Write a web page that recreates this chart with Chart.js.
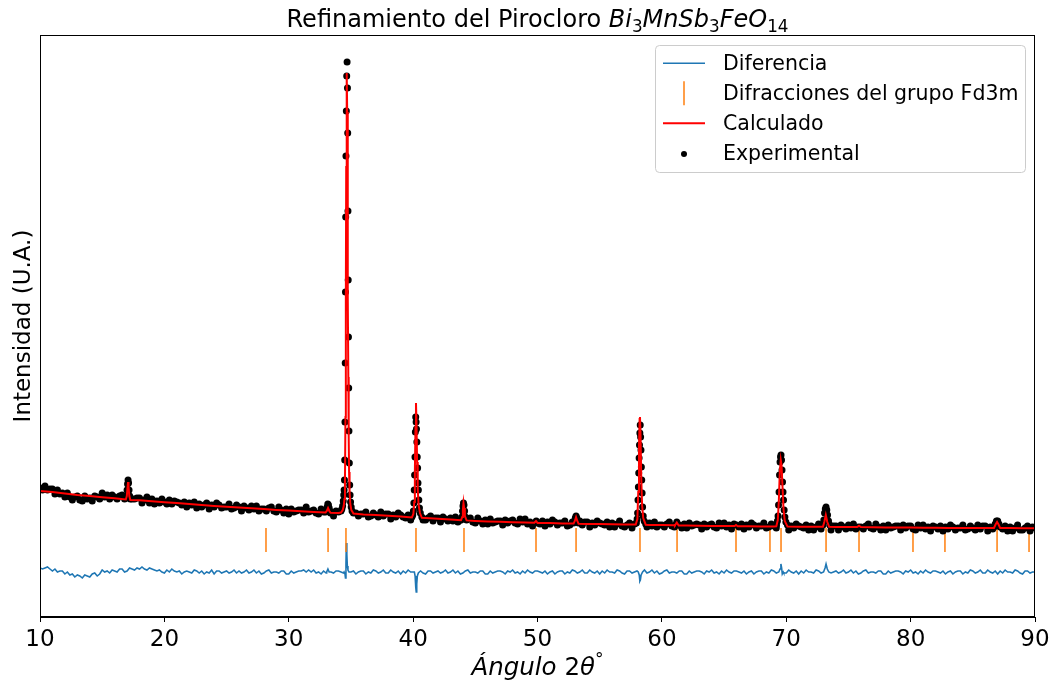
<!DOCTYPE html>
<html>
<head>
<meta charset="utf-8">
<script src="https://cdn.jsdelivr.net/npm/chart.js@4.4.0/dist/chart.umd.min.js"></script>
<style>
  html, body { margin: 0; padding: 0; background: #fff; }
</style>
</head>
<body>
<canvas id="grafica" width="1056" height="684"></canvas>
<script>
// Rejilla del fondo: de 10° a 90°
const inicioFondo = 10;
const pasoFondo = 0.2;
const pasoFondoCalc = 1;

// Fondo experimental (cada 0.2°, una fila por grado)
const fondoExperimental = [
  129,127,131,127,128, 128,123,127,123,124, 120,124,120,117,120, 121,117,116,121,118,
  119,116,121,120,118, 124,120,122,118,122, 120,118,121,122,118, 116,121,118,118,119,
  119,114,117,120,114, 118,113,116,114,118, 115,113,117,113,116, 115,114,112,115,110,
  114,112,115,109,113, 110,112,114,108,112, 110,114,112,109,110, 110,113,108,109,112,
  110,106,111,109,107, 111,108,111,106,108, 108,106,109,110,106, 105,110,107,104,108,
  103,108,105,106,107, 107,104,110,105,106, 107,104,103,108,105, 108,103,105,101,106,
  105,103,106,101,105, 102,106,104,101,103, 103,105,100,101,104, 102,100,105,101,103,
  103,98,102,100,104,  102,100,99,102,97,   101,97,100,102,97,   97,99,101,96,99,
  99,95,100,98,96,     99,96,100,95,97,     97,95,98,99,95,      94,99,96,93,97,
  93,98,94,95,96,      96,92,97,94,96,      97,94,93,98,95,      98,93,95,91,96,
  95,93,96,91,95,      93,97,95,92,94,      94,96,91,92,95,      93,91,96,92,95,
  95,90,94,92,96,      94,93,92,95,90,      94,90,93,96,91,      90,92,94,89,93,
  93,89,94,92,90,      94,91,95,90,92,      92,90,93,95,91,      90,95,92,89,93,
  89,94,91,92,93,      92,88,93,90,92,      93,90,89,94,91,      94,90,92,88,93,
  92,90,93,88,92,      90,94,92,89,91,      91,94,89,90,93,      91,89,94,90,92,
  92,87,91,89,93,      91,90,89,92,87,      91,87,90,93,88,      88,90,92,87,91,
  91,87,92,90,88,      92,89,93,88,90,      90,88,91,93,89,      88,93,90,87,91,
  87,92,89,90,91,      91,87,92,89,91,      91,88,87,92,89,      92,88,90,86,91,
  90,88,91,86,90,      88,92,90,87,89,      89,92,87,88,91,      89,87,92,88,91,
  91,86,90,88,92,      90,89,88,91,86,      90,86,89,92,87,      87,89,91,86,90,
  89
];

// Fondo calculado (cada 1°)
const fondoCalculado = [
  126, 125, 123.5, 122, 121, 119.8, 118.8, 117.8, 116.8, 115.8,
  114.8, 113.9, 113, 112, 111.1, 110.3, 109.5, 108.7, 107.9, 107.1,
  106.4, 105.8, 105.1, 104.5, 104, 103.4, 102.6, 101.9, 101.2, 100.5,
  99.8, 99, 98.2, 97.4, 96.8, 96.1, 95.6, 95.2, 94.8, 94.5,
  94.2, 93.9, 93.6, 93.3, 93.1, 92.9, 92.7, 92.5, 92.3, 92.1,
  91.9, 91.7, 91.5, 91.3, 91.1, 91, 90.8, 90.7, 90.6, 90.5,
  90.4, 90.3, 90.2, 90.1, 90, 89.9, 89.8, 89.7, 89.6, 89.5,
  89.4, 89.3, 89.2, 89.1, 89.1, 89, 89, 88.9, 88.9, 88.8,
  88.8
];

// Diferencia (exp - calc) en el fondo, cada 0.2°
const fondoDiferencia = [
  4,3,4,5,3,    1,3,0,1,1,    -2,0,-3,-2,-5, -3,-4,-6,-3,-4,
  -5,-2,-1,-4,-2, 2,0,1,-1,2, 1,0,3,3,0,     1,4,3,2,4,
  3,5,3,2,4,    3,2,1,2,0,    -1,2,0,3,1,    0,1,-2,0,1,
  0,-1,2,1,-1,  1,-2,0,-1,2,  -2,1,1,-1,0,   1,-1,0,2,-1,
  1,-1,0,2,-1,  0,2,-1,1,-2,  -1,1,2,-1,0,   0,-1,1,1,-2,
  -2,1,-1,0,1,  1,2,0,2,0,    2,-1,0,-2,1,   -1,2,0,-1,1,
  1,0,-1,1,-2,  0,1,-2,0,1,   1,-2,0,-1,2,   1,-1,0,2,-1,
  -1,2,0,-1,1,  -2,1,-1,2,0,  0,-1,2,1,-1,   -2,1,1,-1,0,
  1,-1,0,2,-1,  0,2,-1,1,-2,  -1,1,2,-1,0,   0,-1,1,1,-2,
  -2,1,-1,0,1,  1,0,-2,1,0,   2,-1,0,-2,1,   -1,2,0,-1,1,
  1,0,-1,1,-2,  0,1,-2,0,1,   1,-2,0,-1,2,   1,-1,0,2,-1,
  -1,2,0,-1,1,  -2,1,-1,2,0,  0,-1,2,1,-1,   -2,1,1,-1,0,
  1,-1,0,2,-1,  0,2,-1,1,-2,  -1,1,2,-1,0,   0,-1,1,1,-2,
  -2,1,-1,0,1,  1,0,-2,1,0,   2,-1,0,-2,1,   -1,2,0,-1,1,
  1,0,-1,1,-2,  0,1,-2,0,1,   1,-2,0,-1,2,   1,-1,0,2,-1,
  -1,2,0,-1,1,  -2,1,-1,2,0,  0,-1,2,1,-1,   -2,1,1,-1,0,
  1,-1,0,2,-1,  0,2,-1,1,-2,  -1,1,2,-1,0,   0,-1,1,1,-2,
  -2,1,-1,0,1,  1,0,-2,1,0,   2,-1,0,-2,1,   -1,2,0,-1,1,
  1,0,-1,1,-2,  0,1,-2,0,1,   1,-2,0,-1,2,   1,-1,0,2,-1,
  -1,2,0,-1,1,  -2,1,-1,2,0,  0,-1,2,1,-1,   -2,1,1,-1,0,
  0
];

// Picos experimentales [ángulo, intensidad]
const picosExperimental = [
  [[16.90,119],[16.95,121],[17.00,127],[17.04,133],[17.08,137],[17.12,134],[17.16,127],[17.21,121],[17.26,118]],
  [[32.96,105],[33.03,107],[33.09,110],[33.14,113],[33.19,112],[33.25,109],[33.30,106],[33.36,104]],
  [[34.20,106],[34.27,108],[34.33,111],[34.38,116],[34.42,122],[34.45,127],[34.48,137],[34.50,157],[34.52,195],[34.54,254],
   [34.56,325],[34.58,400],[34.60,461],[34.63,506],[34.66,541],[34.69,555],[34.72,529],[34.74,484],[34.76,406],[34.78,337],
   [34.80,280],[34.82,229],[34.84,186],[34.87,154],[34.90,132],[34.93,122],[34.97,115],[35.02,110],[35.09,106],[35.20,104]],
  [[39.90,100],[39.97,102],[40.02,106],[40.06,114],[40.09,127],[40.12,142],[40.15,160],[40.18,185],[40.21,200],[40.24,195],
   [40.27,188],[40.30,175],[40.33,160],[40.36,149],[40.39,134],[40.42,127],[40.46,117],[40.51,109],[40.58,104],[40.70,100]],
  [[43.85,97],[43.92,100],[43.97,106],[44.01,111],[44.05,114],[44.09,112],[44.14,106],[44.20,100],[44.30,97]],
  [[49.78,94],[49.90,96],[50.02,94]],
  [[52.90,94],[52.98,96],[53.04,99],[53.10,101],[53.16,99],[53.22,96],[53.30,94]],
  [[57.95,94],[58.01,98],[58.05,104],[58.08,117],[58.11,130],[58.14,144],[58.17,159],[58.20,172],[58.23,184],[58.26,192],
   [58.29,180],[58.32,167],[58.35,150],[58.38,137],[58.41,124],[58.45,110],[58.50,101],[58.58,96],[58.70,93]],
  [[61.08,92],[61.20,95],[61.32,92]],
  [[69.22,92],[69.29,96],[69.34,101],[69.38,112],[69.42,125],[69.46,142],[69.50,155],[69.54,160],[69.58,162],[69.62,157],
   [69.66,147],[69.70,135],[69.74,125],[69.78,117],[69.83,107],[69.89,100],[69.97,95],[70.10,92]],
  [[72.95,92],[73.02,97],[73.08,104],[73.14,108],[73.20,110],[73.26,107],[73.32,102],[73.40,96],[73.50,92]],
  [[86.70,90],[86.80,93],[86.90,96],[87.00,96],[87.10,93],[87.20,90]]
];

// Picos del perfil calculado
const picosCalculado = [
  [[16.90,117.5],[16.98,121],[17.04,130],[17.08,135],[17.12,130],[17.18,121],[17.26,117]],
  [[32.96,104.5],[33.06,106],[33.16,109],[33.26,106],[33.36,104.2]],
  [[34.20,104.5],[34.34,107],[34.42,111],[34.48,118],[34.52,135],[34.56,200],[34.59,320],[34.62,450],[34.65,535],[34.67,544],
   [34.70,505],[34.73,420],[34.76,320],[34.79,240],[34.82,180],[34.85,145],[34.89,125],[34.95,113],[35.03,107],[35.20,103.5]],
  [[39.90,99.5],[40.02,103],[40.09,115],[40.14,145],[40.19,190],[40.23,214],[40.27,195],[40.32,155],[40.37,128],[40.44,112],[40.55,104],[40.70,99.2]],
  [[43.85,96.8],[43.95,100],[44.00,107],[44.05,114],[44.10,109],[44.16,101],[44.30,96.6]],
  [[49.75,94.3],[49.88,96],[50.00,94.1]],
  [[52.90,93.4],[53.00,96],[53.10,100],[53.20,96],[53.30,93.3]],
  [[57.90,92.4],[58.03,98],[58.10,125],[58.16,170],[58.21,198],[58.24,200],[58.28,185],[58.34,140],[58.41,112],[58.50,99],[58.70,92.3]],
  [[61.05,91.6],[61.20,94.5],[61.35,91.5]],
  [[65.85,91],[65.96,92],[66.10,90.8]],
  [[69.20,90.6],[69.32,97],[69.40,115],[69.48,145],[69.56,157],[69.62,152],[69.70,130],[69.78,108],[69.88,96],[70.10,90.4]],
  [[72.95,90.3],[73.06,95],[73.18,102],[73.30,95],[73.45,90.2]],
  [[75.70,90],[75.85,91.2],[76.00,89.9]],
  [[86.70,89],[86.83,92.5],[86.95,95],[87.07,92.5],[87.20,88.9]]
];

// Picos de la diferencia
const picosDiferencia = [
  [[33.05,0],[33.15,3],[33.25,0]],
  [[34.45,0],[34.52,-2],[34.56,-6],[34.60,8],[34.63,29],[34.67,18],[34.71,6],[34.76,2],[34.84,0]],
  [[40.10,0],[40.16,-4],[40.21,-15],[40.25,-20],[40.29,-12],[40.34,-4],[40.42,-1],[40.50,0]],
  [[58.10,0],[58.18,-3],[58.23,-9],[58.27,-8],[58.33,-3],[58.45,0]],
  [[69.40,0],[69.50,3],[69.57,8],[69.63,4],[69.68,-2],[69.76,0]],
  [[73.00,0],[73.12,4],[73.20,8],[73.30,3],[73.42,0]]
];

// Posiciones de Bragg del grupo Fd3m
const reflexiones = [28.17, 33.16, 34.60, 40.23, 44.09, 49.88, 53.10, 58.24, 61.22,
  65.96, 68.69, 69.58, 73.20, 75.85, 80.19, 82.76, 86.95, 89.52];

const desplazamientoDif = 45;   // la diferencia se dibuja debajo del patrón
const nivelReflexiones = 77;

// junta fondo y picos, quitando los puntos de fondo que caen dentro de un pico
function combinar(fondo, paso, picos) {
  const ventanas = picos.map(p => [p[0][0], p[p.length - 1][0]]);
  const puntos = [];
  fondo.forEach((y, i) => {
    const x = inicioFondo + i * paso;
    if (!ventanas.some(v => x >= v[0] && x <= v[1])) puntos.push({ x: x, y: y });
  });
  picos.forEach(p => p.forEach(([x, y]) => puntos.push({ x: x, y: y })));
  return puntos.sort((a, b) => a.x - b.x);
}

const experimental = combinar(fondoExperimental, pasoFondo, picosExperimental);
const calculado = combinar(fondoCalculado, pasoFondoCalc, picosCalculado);
const diferencia = combinar(fondoDiferencia, pasoFondo, picosDiferencia)
  .map(p => ({ x: p.x, y: p.y + desplazamientoDif }));
const bragg = reflexiones.map(x => ({ x: x, y: nivelReflexiones }));

const FUENTE = '"DejaVu Sans", sans-serif';

// texto con tramos en cursiva, subíndices y superíndices
function dibujarTramos(ctx, tramos, xc, yb, tam) {
  const fuente = t => (t.it ? 'italic ' : '') + ((t.sub || t.sup) ? tam * 0.7 : tam) + 'px ' + FUENTE;
  let ancho = 0;
  tramos.forEach(t => { ctx.font = fuente(t); ancho += ctx.measureText(t.t).width; });
  let x = xc - ancho / 2;
  ctx.textAlign = 'left';
  ctx.textBaseline = 'alphabetic';
  tramos.forEach(t => {
    ctx.font = fuente(t);
    const dy = t.sub ? tam * 0.22 : (t.sup ? -tam * 0.42 : 0);
    ctx.fillText(t.t, x, yb + dy);
    x += ctx.measureText(t.t).width;
  });
}

const decoracion = {
  id: 'decoracion',
  afterDatasetsDraw(chart) {
    const ctx = chart.ctx;
    const a = chart.chartArea;
    ctx.save();
    ctx.fillStyle = '#000';

    // marco
    ctx.strokeStyle = '#000';
    ctx.lineWidth = 1;
    ctx.strokeRect(Math.round(a.left) + 0.5, Math.round(a.top) + 0.5,
      Math.round(a.right - a.left) - 1, Math.round(a.bottom - a.top) - 1);

    const xc = (a.left + a.right) / 2;

    // título
    dibujarTramos(ctx, [
      { t: 'Refinamiento del Pirocloro ' },
      { t: 'Bi', it: true }, { t: '3', sub: true },
      { t: 'MnSb', it: true }, { t: '3', sub: true },
      { t: 'FeO', it: true }, { t: '14', sub: true }
    ], xc, 27, 24);

    // eje x
    dibujarTramos(ctx, [
      { t: 'Ángulo', it: true }, { t: ' 2' }, { t: 'θ', it: true }, { t: '°', sup: true }
    ], xc, 675, 24.5);

    // eje y
    ctx.save();
    ctx.translate(30, (a.top + a.bottom) / 2);
    ctx.rotate(-Math.PI / 2);
    ctx.font = '23px ' + FUENTE;
    ctx.textAlign = 'center';
    ctx.textBaseline = 'alphabetic';
    ctx.fillText('Intensidad (U.A.)', 0, 0);
    ctx.restore();

    // leyenda
    const lx = 655.5, ly = 45.5, lw = 370, lh = 127;
    ctx.beginPath();
    ctx.roundRect(lx, ly, lw, lh, 4);
    ctx.fillStyle = 'rgba(255,255,255,0.8)';
    ctx.fill();
    ctx.strokeStyle = '#cccccc';
    ctx.lineWidth = 1;
    ctx.stroke();

    const filas = [63.3, 93.3, 123.3, 153.3];
    ctx.lineWidth = 1.5;
    ctx.strokeStyle = '#1f77b4';
    ctx.beginPath(); ctx.moveTo(663, filas[0]); ctx.lineTo(705, filas[0]); ctx.stroke();
    ctx.strokeStyle = '#ff7f0e';
    ctx.beginPath(); ctx.moveTo(684, filas[1] - 12); ctx.lineTo(684, filas[1] + 12); ctx.stroke();
    ctx.lineWidth = 2;
    ctx.strokeStyle = '#ff0000';
    ctx.beginPath(); ctx.moveTo(663, filas[2]); ctx.lineTo(705, filas[2]); ctx.stroke();
    ctx.fillStyle = '#000';
    ctx.beginPath(); ctx.arc(684, filas[3] + 0.7, 3, 0, Math.PI * 2); ctx.fill();

    ctx.font = '20.5px ' + FUENTE;
    ctx.textAlign = 'left';
    ctx.textBaseline = 'alphabetic';
    ['Diferencia', 'Difracciones del grupo Fd3m', 'Calculado', 'Experimental']
      .forEach((t, i) => ctx.fillText(t, 723, filas[i] + 6.2));
    ctx.restore();
  }
};

new Chart(document.getElementById('grafica'), {
  type: 'scatter',
  data: {
    datasets: [
      {
        label: 'Diferencia',
        data: diferencia,
        showLine: true,
        borderColor: '#1f77b4',
        borderWidth: 1.6,
        pointRadius: 0,
        order: 3
      },
      {
        label: 'Difracciones del grupo Fd3m',
        data: bragg,
        pointStyle: 'line',
        pointRotation: 90,
        pointRadius: 12,
        borderColor: '#ff7f0e',
        borderWidth: 1.5,
        order: 2
      },
      {
        label: 'Calculado',
        data: calculado,
        showLine: true,
        borderColor: '#ff0000',
        borderWidth: 2,
        pointRadius: 0,
        order: 0
      },
      {
        label: 'Experimental',
        data: experimental,
        pointRadius: 3.5,
        pointStyle: 'circle',
        backgroundColor: '#000',
        borderWidth: 0,
        order: 1
      }
    ]
  },
  options: {
    responsive: false,
    animation: false,
    devicePixelRatio: 1,
    events: [],
    layout: { padding: { left: 40, right: 21, top: 35, bottom: 0 } },
    plugins: {
      legend: { display: false },
      title: { display: false },
      tooltip: { enabled: false }
    },
    scales: {
      x: {
        type: 'linear',
        min: 10,
        max: 90,
        ticks: {
          stepSize: 10,
          color: '#000',
          font: { family: FUENTE, size: 23 },
          padding: 4,
          maxRotation: 0
        },
        grid: { drawOnChartArea: false, drawTicks: true, tickLength: 5, color: '#000' },
        border: { display: true, color: '#000' },
        afterFit: s => { s.height = 67; }
      },
      y: {
        display: false,
        min: 0,
        max: 582
      }
    }
  },
  plugins: [decoracion]
});
</script>
</body>
</html>
